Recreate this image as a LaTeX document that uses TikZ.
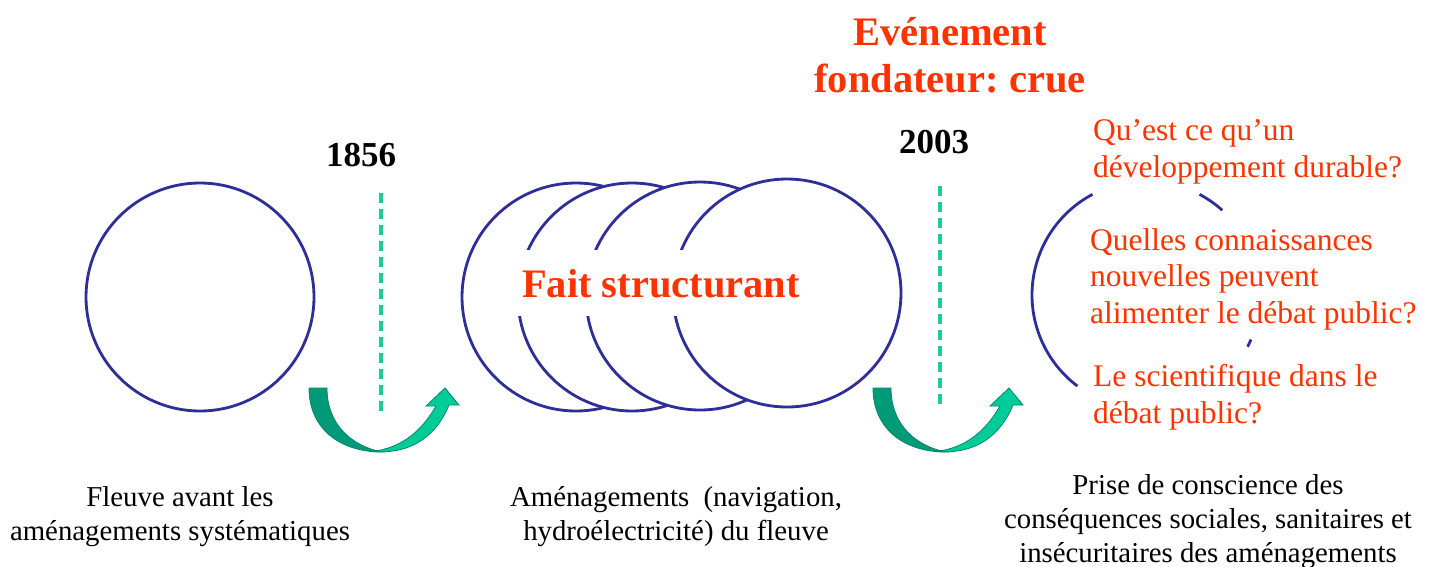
\documentclass[tikz,border=0pt]{standalone}
\usepackage{fontspec}
\setmainfont{Liberation Serif}
\frenchspacing
\definecolor{navy}{HTML}{2E2E99}
\definecolor{orangered}{HTML}{FF3300}
\definecolor{dashteal}{HTML}{1ECC99}
\definecolor{gdark}{HTML}{009A78}
\definecolor{glight}{HTML}{00CC99}
\definecolor{gline}{HTML}{00886A}
\tikzset{
  ring/.style={circle, draw=navy, line width=2.8pt, fill=white, inner sep=0pt, minimum size=228pt},
  arcline/.style={draw=navy, line width=2.8pt},
  dashline/.style={draw=dashteal, line width=3.2pt, dash pattern=on 10pt off 6pt},
  title/.style={text=orangered, font=\fontsize{40.5}{46.5}\selectfont\bfseries, align=center},
  year/.style={font=\fontsize{35}{40}\selectfont\bfseries},
  question/.style={text=orangered, font=\fontsize{31.5}{36.5}\selectfont, align=left, inner sep=0pt},
  caption/.style={font=\fontsize{28.8}{34}\selectfont, align=center, inner sep=0pt},
  uarrow/.pic={
    \fill[gdark, draw=gline, line width=0.8pt] (0,0) .. controls (0,40) and (30,64) .. (73,64)
       .. controls (43,58) and (18,37) .. (18,0) -- cycle;
    \fill[glight, draw=gline, line width=0.8pt] (63,63.5) .. controls (106,67) and (129,44) .. (140,17)
       -- (150,17) -- (136,0) -- (117,18) -- (127,18)
       .. controls (112,44) and (92,60) .. (63,63.5) -- cycle;
  }
}
\begin{document}
\begin{tikzpicture}[x=1pt,y=-1pt]
\path[use as bounding box, fill=white] (0,0) rectangle (1434,566);

% left circle
\node[ring] (c0) at (200,297) {};
% overlapping circles
\node[ring] (c1) at (576,297) {};
\node[ring] (c2) at (632,297) {};
\node[ring] (c3) at (700,296) {};
\node[ring] (c4) at (787,293) {};
\node[title, fill=white, inner xsep=7pt, inner ysep=0pt, text height=47pt, text depth=19pt, anchor=base] (fait) at (661,297) {Fait structurant};

% right partial circle
\coordinate (rc) at (1146,295);
\draw[arcline] ([shift={(-118:114)}]rc) arc[start angle=-118, end angle=-233, radius=114];
\draw[arcline] ([shift={(-48:114)}]rc) arc[start angle=-48, end angle=-62, radius=114];
\draw[arcline] ([shift={(27:114)}]rc) arc[start angle=27, end angle=23, radius=114];

% dashed lines
\coordinate (d1t) at (381,193); \coordinate (d1b) at (381,415);
\coordinate (d2t) at (940,186); \coordinate (d2b) at (940,408);
\draw[dashline] (d1t) -- (d1b);
\draw[dashline] (d2t) -- (d2b);

% curved arrows
\pic at (309,388) {uarrow};
\pic at (873,388) {uarrow};

% years
\node[year, anchor=base] (y1856) at (361,166) {1856};
\node[year, anchor=base] (y2003) at (934,153) {2003};

% title (anchor = baseline of last line)
\node[title, anchor=base, inner sep=0pt] (evt) at (950,92) {Evénement\\fondateur: crue};

% questions
\node[question, anchor=base west] (q1) at (1093,177) {Qu’est ce qu’un\\développement durable?};
\node[question, anchor=base west] (q2) at (1090,323) {Quelles connaissances\\nouvelles peuvent\\alimenter le débat public?};
\node[question, anchor=base west] (q3) at (1093,423) {Le scientifique dans le\\débat public?};

% captions
\node[caption, anchor=base] (cap1) at (180,540) {Fleuve avant les\\aménagements systématiques};
\node[caption, anchor=base] (cap2) at (676,540) {Aménagements\ \ (navigation,\\hydroélectricité) du fleuve};
\node[caption, anchor=base] (cap3) at (1208,562) {Prise de conscience des\\conséquences sociales, sanitaires et\\insécuritaires des aménagements};
\end{tikzpicture}
\end{document}
